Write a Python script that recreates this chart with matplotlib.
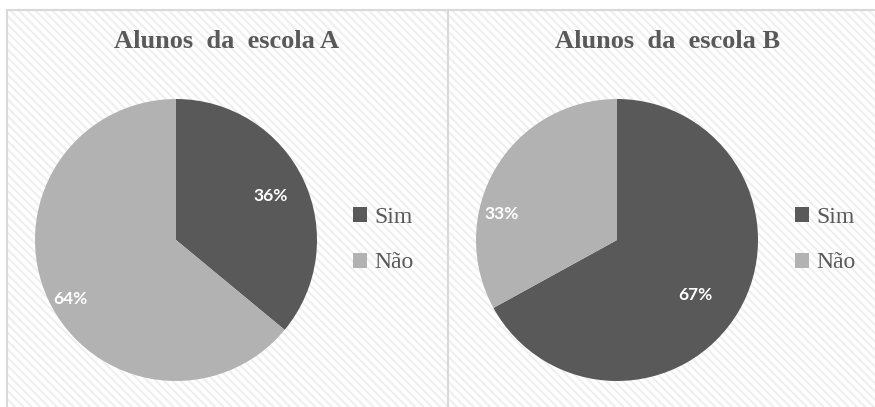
import matplotlib
matplotlib.use("Agg")
import numpy as np
import matplotlib.pyplot as plt
from matplotlib.patches import Rectangle
from matplotlib.lines import Line2D

# dados
categorias = ["Sim", "Não"]
escola_a = [36, 64]
escola_b = [67, 33]
titulos = ["Alunos  da  escola A", "Alunos  da  escola B"]

cores = ["#595959", "#b2b2b2"]
W, H = 875, 407

fig = plt.figure(figsize=(W / 100, H / 100), dpi=100)
plt.rcParams["hatch.linewidth"] = 1.5

# fundo listrado
fundo = Rectangle((7 / W, 0), 1, (H - 10) / H, transform=fig.transFigure,
                  facecolor="white", edgecolor="#efefef", linewidth=0,
                  hatch="\\\\\\\\", zorder=-5)
fig.patches.append(fundo)
for xs, ys in [([7 / W, 1], [(H - 10) / H] * 2),
               ([7 / W, 7 / W], [0, (H - 10) / H]),
               ([448 / W, 448 / W], [0, (H - 10) / H])]:
    fig.lines.append(Line2D(xs, ys, transform=fig.transFigure,
                            color="#d9d9d9", lw=1.5, zorder=-4))

# (valores, x do pie, x do titulo, x da legenda, distancia e desvio dos rotulos)
paineis = [
    (escola_a, 35, 227, 332, [0.74, 0.86], [0, 4]),
    (escola_b, 476, 668, 774, [0.68, 0.84], [-4.5, 18]),
]

for (valores, x0, xt, xleg, dist, desvio), titulo in zip(paineis, titulos):
    ax = fig.add_axes([x0 / W, 26 / H, 282 / W, 282 / H])
    ax.patch.set_visible(False)
    wedges, _ = ax.pie(valores, colors=cores, startangle=90, counterclock=False,
                       wedgeprops=dict(linewidth=0))
    ax.set_aspect("equal")
    ax.set_xlim(-1, 1)
    ax.set_ylim(-1, 1)
    for w, v, d, o in zip(wedges, valores, dist, desvio):
        ang = np.deg2rad((w.theta1 + w.theta2) / 2 + o)
        ax.text(d * np.cos(ang), d * np.sin(ang), f"{v}%", color="white",
                fontsize=12.5, fontweight="bold", family="Lato",
                ha="center", va="center")
    fig.text(xt / W, 1 - 42 / H, titulo, ha="center", va="center",
             family="Liberation Serif", fontweight="bold", fontsize=19,
             color="#595959")
    leg = fig.legend(wedges, categorias, loc="center left",
                     bbox_to_anchor=(xleg / W, 1 - 240 / H),
                     frameon=False, handlelength=0.6, handleheight=0.6,
                     handletextpad=0.3, labelspacing=1.05,
                     prop={"family": "Liberation Serif", "size": 17})
    for t in leg.get_texts():
        t.set_color("#595959")

fig.savefig("out.png", dpi=100)
